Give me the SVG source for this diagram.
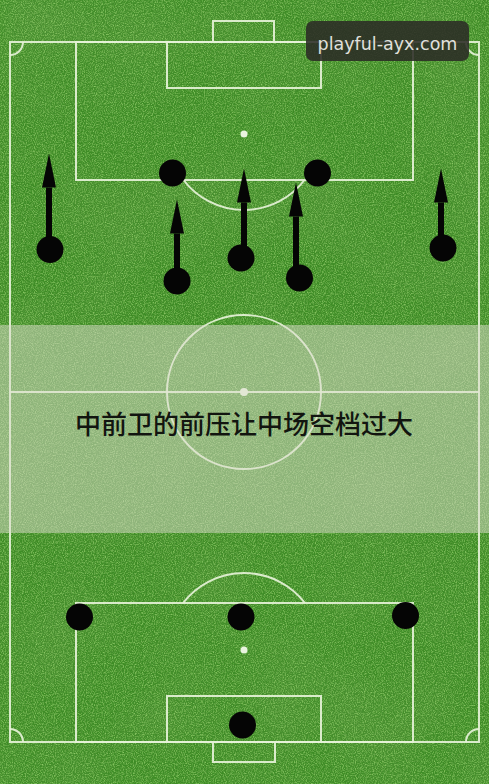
<svg xmlns="http://www.w3.org/2000/svg" width="489" height="784" viewBox="0 0 489 784">
<defs>
<style>
.ln{fill:none;stroke:#e6f2d8;stroke-width:2;stroke-opacity:0.92}
.pl{fill:#050505}
.sh{stroke:#050505;stroke-width:6;fill:none}
.spot{fill:#e9f3df}
</style>
<filter id="grass" x="0" y="0" width="100%" height="100%">
<feTurbulence type="fractalNoise" baseFrequency="0.9" numOctaves="2" seed="3" result="n"/>
<feColorMatrix in="n" type="matrix" values="0 0 0 0 0.42  0 0 0 0 0.78  0 0 0 0 0.22  1.7 0 0 0 -0.72" result="light"/>
<feTurbulence type="fractalNoise" baseFrequency="0.7" numOctaves="2" seed="9" result="n2"/>
<feColorMatrix in="n2" type="matrix" values="0 0 0 0 0.1  0 0 0 0 0.3  0 0 0 0 0.05  1.7 0 0 0 -0.72" result="dark"/>
<feMerge><feMergeNode in="dark"/><feMergeNode in="light"/></feMerge>
</filter>
<filter id="patch" x="0" y="0" width="100%" height="100%">
<feTurbulence type="fractalNoise" baseFrequency="0.012" numOctaves="2" seed="5" result="p"/>
<feColorMatrix in="p" type="matrix" values="0 0 0 0 0.12  0 0 0 0 0.32  0 0 0 0 0.06  1.2 0 0 0 -0.45"/>
</filter>
<marker id="head" viewBox="0 0 34 14" refX="0" refY="7" markerWidth="34" markerHeight="14" markerUnits="userSpaceOnUse" orient="auto">
<path d="M0,0 L34,7 L0,14 Z" fill="#050505"/>
</marker>
</defs>
<rect width="489" height="784" fill="#3d8c25"/>
<rect width="489" height="784" filter="url(#patch)" opacity="0.6"/>
<rect width="489" height="784" filter="url(#grass)" opacity="0.85"/>

<g id="pitch">
<rect class="ln" x="10" y="42" width="469" height="700"/>
<rect class="ln" x="213" y="21" width="61" height="21"/>
<rect class="ln" x="76" y="42" width="337" height="138"/>
<rect class="ln" x="167" y="42" width="154" height="46"/>
<path class="ln" d="M183.5,180 A76,76 0 0,0 304.5,180"/>
<circle class="spot" cx="244" cy="134" r="3.5"/>
<line class="ln" x1="10" y1="392" x2="479" y2="392"/>
<circle class="ln" cx="244" cy="392" r="77"/>
<circle class="spot" cx="244" cy="392" r="4"/>
<rect class="ln" x="76" y="603" width="337" height="139"/>
<rect class="ln" x="167" y="696" width="154" height="46"/>
<rect class="ln" x="213" y="742" width="62" height="20"/>
<path class="ln" d="M183,603 A77,77 0 0,1 305,603"/>
<circle class="spot" cx="244" cy="650" r="3.5"/>
<path class="ln" d="M23,42 A13,13 0 0,1 10,55"/>
<path class="ln" d="M466,42 A13,13 0 0,0 479,55"/>
<path class="ln" d="M10,729 A13,13 0 0,1 23,742"/>
<path class="ln" d="M466,742 A13,13 0 0,1 479,729"/>
</g>

<g id="connectors">
<line class="sh" x1="49" y1="249" x2="49" y2="187.5" marker-end="url(#head)"/>
<line class="sh" x1="177" y1="281" x2="177" y2="233.5" marker-end="url(#head)"/>
<line class="sh" x1="244" y1="258" x2="244" y2="202.5" marker-end="url(#head)"/>
<line class="sh" x1="296" y1="278" x2="296" y2="216.5" marker-end="url(#head)"/>
<line class="sh" x1="441" y1="248" x2="441" y2="202.5" marker-end="url(#head)"/>
</g>

<g id="att-l"><circle class="pl" cx="172.5" cy="173" r="13.5"/></g>
<g id="att-r"><circle class="pl" cx="317.5" cy="173" r="13.5"/></g>
<g id="mid-1"><circle class="pl" cx="50" cy="249.5" r="13.5"/></g>
<g id="mid-2"><circle class="pl" cx="177" cy="281" r="13.5"/></g>
<g id="mid-3"><circle class="pl" cx="241" cy="258" r="13.5"/></g>
<g id="mid-4"><circle class="pl" cx="299.5" cy="278" r="13.5"/></g>
<g id="mid-5"><circle class="pl" cx="443" cy="248" r="13.5"/></g>
<g id="def-l"><circle class="pl" cx="79.5" cy="617" r="13.5"/></g>
<g id="def-c"><circle class="pl" cx="241" cy="617" r="13.5"/></g>
<g id="def-r"><circle class="pl" cx="405.5" cy="615.5" r="13.5"/></g>
<g id="gk"><circle class="pl" cx="242.5" cy="725" r="13.5"/></g>

<g id="caption">
<rect x="0" y="325" width="489" height="208" fill="#dcdccc" fill-opacity="0.5"/>
<text x="244" y="434" text-anchor="middle" font-family="'Noto Sans CJK SC', 'Noto Sans', sans-serif" font-size="26" font-weight="500" fill="#121510">中前卫的前压让中场空档过大</text>
</g>

<g id="watermark">
<rect x="306" y="21" width="163" height="40" rx="7" fill="#2b2b26" fill-opacity="0.88"/>
<text x="387.5" y="50" text-anchor="middle" font-family="'DejaVu Sans', sans-serif" font-size="17.5" fill="#e0e0dc">playful-ayx.com</text>
</g>
</svg>
